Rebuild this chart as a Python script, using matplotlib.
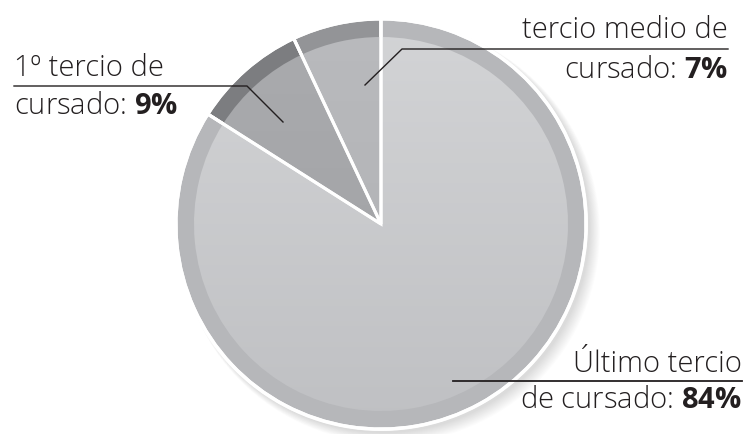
import numpy as np
import matplotlib

matplotlib.use("Agg")
import matplotlib.pyplot as plt
from matplotlib.colors import LinearSegmentedColormap

plt.rcParams.update(
    {
        "font.family": ["Open Sans", "DejaVu Sans"],
        "mathtext.fontset": "custom",
        "mathtext.rm": "Open Sans:light",
        "mathtext.bf": "Open Sans:bold",
    }
)

# data
labels = ["tercio medio de\ncursado", "1º tercio de\ncursado", "Último tercio\nde cursado"]
values = [7, 9, 84]
rim_colors = ["#939497", "#7c7d80", "#b6b7ba"]
inner_top = ["#b9babd", "#aaabae", "#d3d4d6"]
inner_bottom = ["#afb0b3", "#9fa0a3", "#bfc0c3"]

W, H = 744, 434
cx, cy, R = 381, H - 224, 205
r_in = 187

fig = plt.figure(figsize=(W / 100, H / 100), dpi=100)
ax = fig.add_axes([0, 0, 1, 1])

# soft shadow bottom-right
for k in range(12):
    sh = plt.Circle((cx + 3 + k * 0.5, cy - 3 - k * 0.5), R + 1 + k * 0.4,
                    color="#000000", alpha=0.012, lw=0, zorder=0)
    ax.add_patch(sh)
ax.add_patch(plt.Circle((cx, cy), R + 2, color="white", lw=0, zorder=0.5))

# outer rim
ax.pie(values, startangle=90, counterclock=True, center=(cx, cy), radius=R,
       colors=rim_colors, frame=True,
       wedgeprops=dict(edgecolor="white", linewidth=2.2, zorder=1))

# inner wedges with vertical gradient
inner, _ = ax.pie(values, startangle=90, counterclock=True, center=(cx, cy), radius=r_in,
                  colors=rim_colors, frame=True,
                  wedgeprops=dict(edgecolor="none", linewidth=0, zorder=2))
grad = np.linspace(1, 0, 256).reshape(-1, 1)
for w, ct, cb in zip(inner, inner_top, inner_bottom):
    cmap = LinearSegmentedColormap.from_list("g", [cb, ct])
    im = ax.imshow(grad, cmap=cmap, extent=(cx - R, cx + R, cy - R, cy + R),
                   origin="upper", aspect="auto", zorder=2.5)
    im.set_clip_path(w)

# white separators on top of the gradient
ax.pie(values, startangle=90, counterclock=True, center=(cx, cy), radius=R,
       colors=["none"] * 3, frame=True,
       wedgeprops=dict(edgecolor="white", linewidth=2.2, fill=False, zorder=3))

ax.set_xlim(0, W)
ax.set_ylim(0, H)
ax.set_aspect("equal")
ax.axis("off")

fs = 21
tc = "#231f20"
lc = "#231f20"
kw = dict(fontsize=fs, color=tc, zorder=5, va="baseline", fontweight="light")

# tercio medio (top right)
ax.text(728, H - 38, "tercio medio de", ha="right", **kw)
ax.text(728, H - 78, r"cursado: $\mathbf{%d\%%}$" % values[0], ha="right", **kw)
ax.plot([728, 402, 365], [H - 49, H - 49, H - 85], color=lc, lw=1.0, zorder=5)

# 1º tercio (top left)
ax.text(14, H - 76, "1º tercio de", ha="left", **kw)
ax.text(14, H - 114, r"cursado: $\mathbf{%d\%%}$" % values[1], ha="left", **kw)
ax.plot([14, 247, 283], [H - 86, H - 86, H - 122], color=lc, lw=1.0, zorder=5)

# último tercio (bottom right)
ax.text(742, H - 372, "Último tercio", ha="right", **kw)
ax.text(742, H - 408, r"de cursado: $\mathbf{%d\%%}$" % values[2], ha="right", **kw)
ax.plot([453, 742], [H - 381, H - 381], color=lc, lw=1.3, zorder=5)

fig.savefig("out.png", dpi=100)
